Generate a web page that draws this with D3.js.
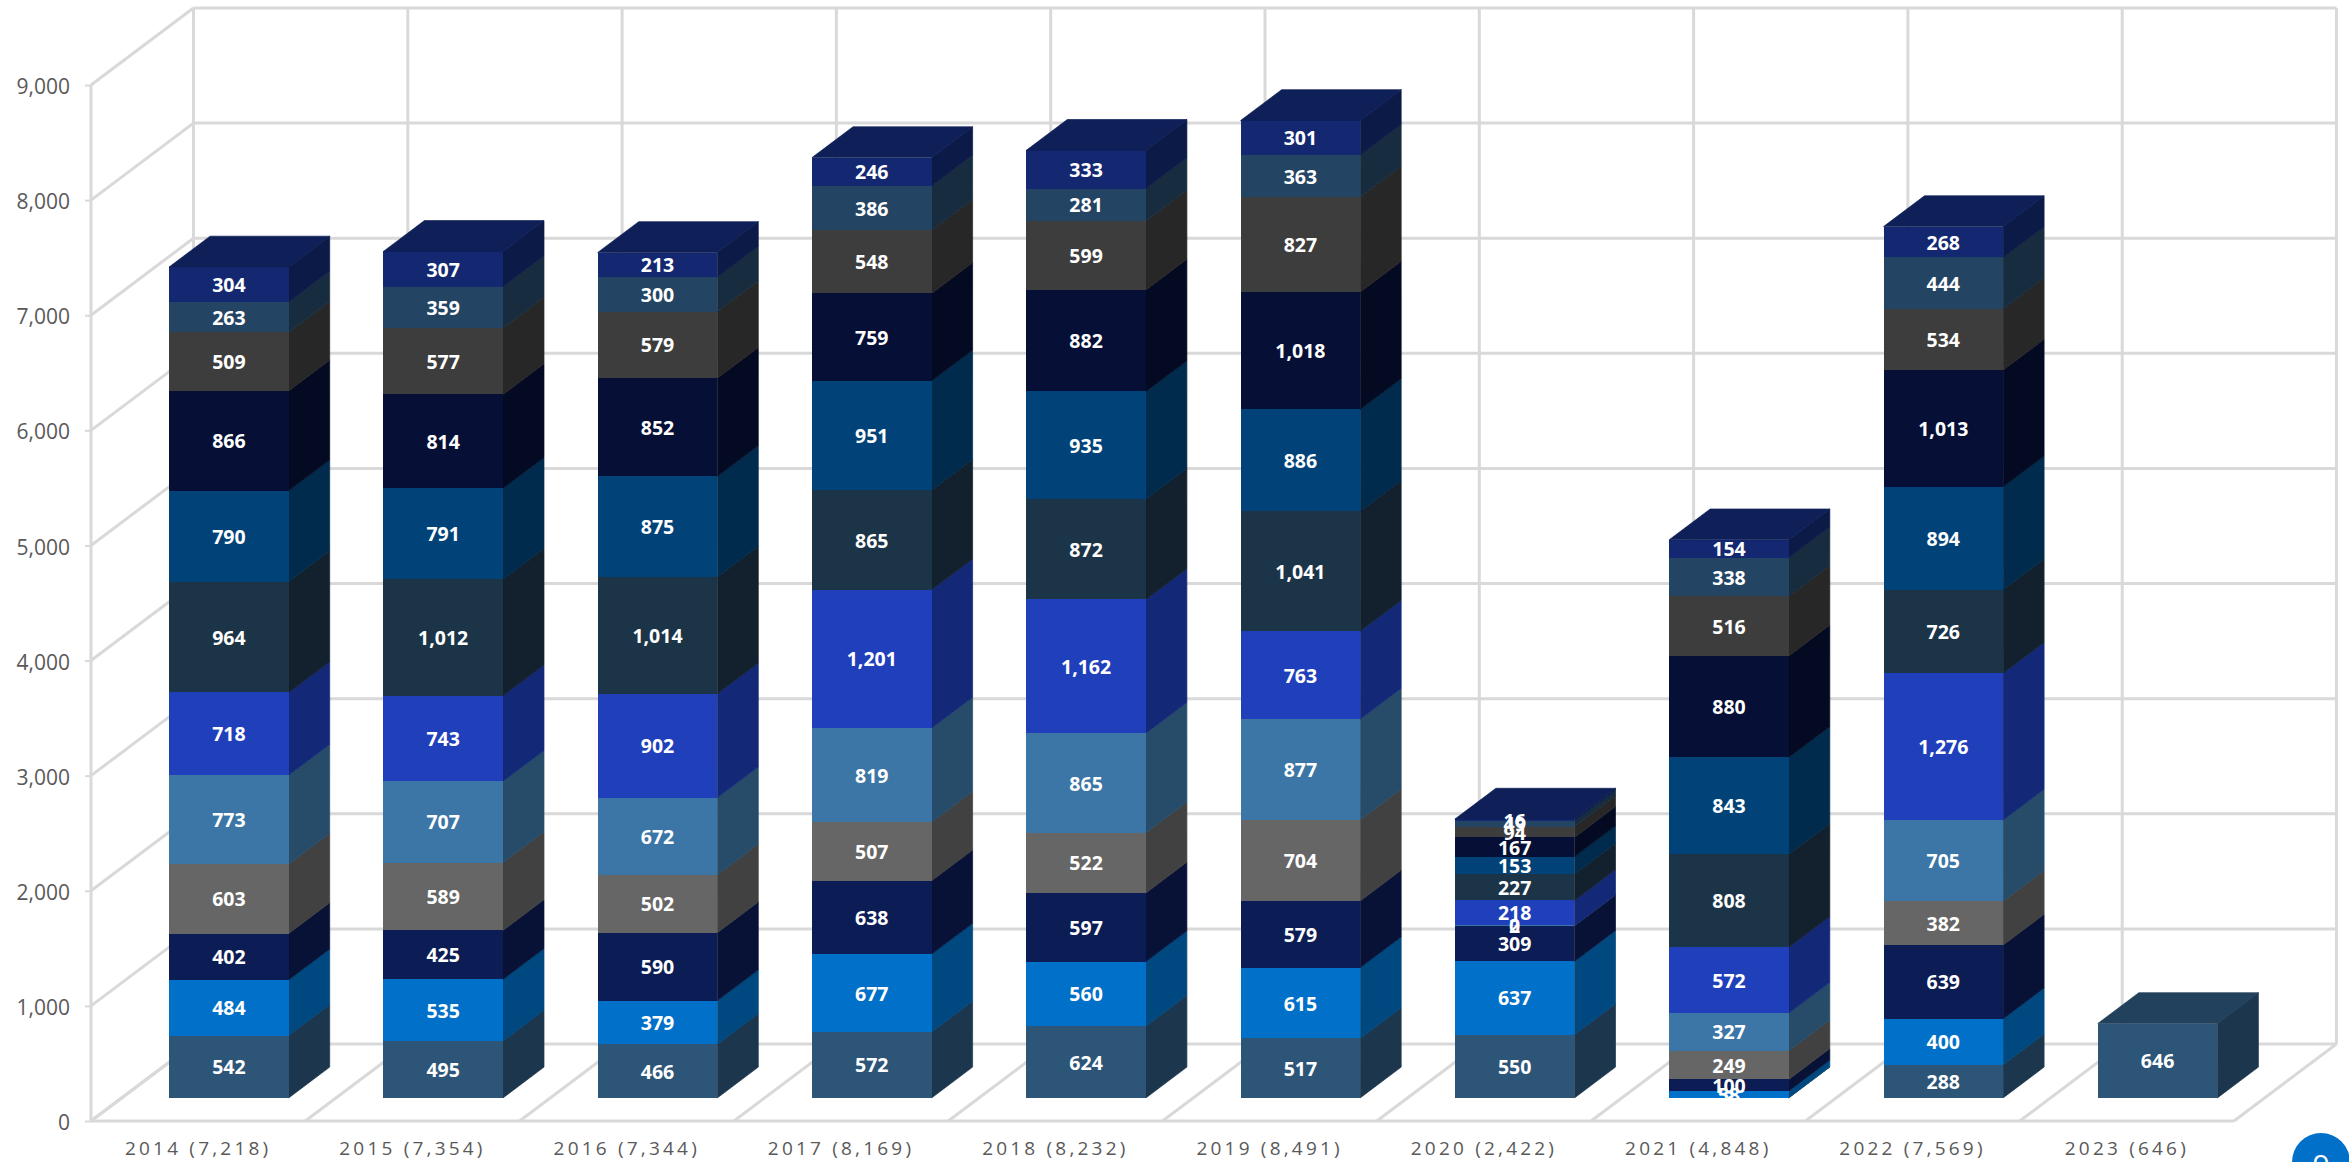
<!DOCTYPE html>
<html>
<head>
<meta charset="utf-8">
<script src="https://d3js.org/d3.v7.min.js"></script>
<style>
  html, body { margin: 0; padding: 0; background: #fff; overflow: hidden; }
  svg { display: block; font-family: "Open Sans", sans-serif; }
  .grid line, .grid path { stroke: #d9d9d9; stroke-width: 3; fill: none; }
  .axis path { display: none; }
  .axis line { stroke: #d9d9d9; stroke-width: 2; }
  .axis text { fill: #595959; }
  .axis-y text { font-size: 21px; }
  .axis-x text { font-size: 19px; letter-spacing: 3.2px; }
  .front { shape-rendering: crispEdges; }
  .val { fill: #fff; font-size: 19.5px; font-weight: 700; text-anchor: middle; }
</style>
</head>
<body>
<svg id="chart" width="2349" height="1162"></svg>
<script>
var years = ["2014", "2015", "2016", "2017", "2018", "2019", "2020", "2021", "2022", "2023"];
var xLabels = ["2014 (7,218)", "2015 (7,354)", "2016 (7,344)", "2017 (8,169)", "2018 (8,232)", "2019 (8,491)", "2020 (2,422)", "2021 (4,848)", "2022 (7,569)", "2023 (646)"];
var yTicks = [0, 1000, 2000, 3000, 4000, 5000, 6000, 7000, 8000, 9000];

// one list per stack layer, bottom to top, one value per year
var s01 = [542, 495, 466, 572, 624, 517, 550, 3, 288, 646];
var s02 = [484, 535, 379, 677, 560, 615, 637, 58, 400, 0];
var s03 = [402, 425, 590, 638, 597, 579, 309, 100, 639, 0];
var s04 = [603, 589, 502, 507, 522, 704, 0, 249, 382, 0];
var s05 = [773, 707, 672, 819, 865, 877, 2, 327, 705, 0];
var s06 = [718, 743, 902, 1201, 1162, 763, 218, 572, 1276, 0];
var s07 = [964, 1012, 1014, 865, 872, 1041, 227, 808, 726, 0];
var s08 = [790, 791, 875, 951, 935, 886, 153, 843, 894, 0];
var s09 = [866, 814, 852, 759, 882, 1018, 167, 880, 1013, 0];
var s10 = [509, 577, 579, 548, 599, 827, 94, 516, 534, 0];
var s11 = [263, 359, 300, 386, 281, 363, 49, 338, 444, 0];
var s12 = [304, 307, 213, 246, 333, 301, 16, 154, 268, 0];

var allSeries = [s01, s02, s03, s04, s05, s06, s07, s08, s09, s10, s11, s12];
var colors = ["#2c5578", "#0070c8", "#0c1c54", "#666666", "#3c76a6", "#1f3fbb", "#1c3447", "#014378", "#060f35", "#3d3d3d", "#244463", "#132871"];

// plot box: front plane, plus the offset of the back wall
const plotLeft = 91, plotRight = 2234, plotBottom = 1121, plotTop = 85;
const wallX = 102.5, wallY = -77;
const depthFront = 0.3, depthBack = 0.7;

const x = d3.scaleBand().domain(years).range([plotLeft, plotRight]).paddingInner(0.442).paddingOuter(0.221);
const y = d3.scaleLinear().domain([0, 9000]).range([plotBottom, plotTop]);

function shade(c, k) {
  const r = d3.rgb(c);
  return d3.rgb(r.r * k, r.g * k, r.b * k).formatHex();
}
function pts(list) {
  return list.map((p) => p[0].toFixed(1) + "," + p[1].toFixed(1)).join(" ");
}

const svg = d3.select("#chart");
const cell = x.step();
const cellEdges = d3.range(years.length + 1).map((i) => plotLeft + i * cell);

// walls and floor
const grid = svg.append("g").attr("class", "grid");
grid.selectAll(".back-h").data(yTicks).enter().append("line")
  .attr("class", "back-h")
  .attr("x1", plotLeft + wallX).attr("x2", plotRight + wallX)
  .attr("y1", (d) => y(d) + wallY).attr("y2", (d) => y(d) + wallY);
grid.selectAll(".back-v").data(cellEdges).enter().append("line")
  .attr("class", "back-v")
  .attr("x1", (d) => d + wallX).attr("x2", (d) => d + wallX)
  .attr("y1", y(9000) + wallY).attr("y2", y(0) + wallY);
grid.selectAll(".side").data(yTicks).enter().append("line")
  .attr("class", "side")
  .attr("x1", plotLeft).attr("x2", plotLeft + wallX)
  .attr("y1", (d) => y(d)).attr("y2", (d) => y(d) + wallY);
grid.selectAll(".floor").data(cellEdges).enter().append("line")
  .attr("class", "floor")
  .attr("x1", (d) => d).attr("x2", (d) => d + wallX)
  .attr("y1", y(0)).attr("y2", y(0) + wallY);
grid.append("line").attr("x1", plotLeft).attr("x2", plotLeft).attr("y1", y(9000)).attr("y2", y(0));
grid.append("line").attr("x1", plotLeft).attr("x2", plotRight).attr("y1", y(0)).attr("y2", y(0));

// axes
const axisY = svg.append("g").attr("class", "axis axis-y")
  .attr("transform", "translate(" + plotLeft + ",0)")
  .call(d3.axisLeft(y).tickValues(yTicks).tickFormat(d3.format(",")).tickSize(6).tickPadding(15));
const axisX = svg.append("g").attr("class", "axis axis-x")
  .attr("transform", "translate(0," + (plotBottom + 4) + ")")
  .call(d3.axisBottom(x).tickFormat((d, i) => xLabels[i]).tickSize(0).tickPadding(17));
axisY.attr("font-family", null).attr("font-size", null);
axisX.attr("font-family", null).attr("font-size", null);
axisY.selectAll("text").attr("dy", "0.41em");

// stacked boxes
const stackRows = years.map((yr, i) => {
  const row = {year: yr};
  allSeries.forEach((s, k) => { row[k] = s[i]; });
  return row;
});
const stacked = d3.stack().keys(allSeries.map((s, k) => k))(stackRows);

const fx = wallX * depthFront, fy = wallY * depthFront;
const bx = wallX * (depthBack - depthFront), by = wallY * (depthBack - depthFront);

years.forEach((yr, i) => {
  const bar = svg.append("g").attr("class", "bar");
  const x0 = x(yr) + fx, x1 = x0 + x.bandwidth();
  const layers = stacked.filter((l) => l[i][1] > l[i][0]);

  bar.selectAll(".bside").data(layers).enter().append("polygon")
    .attr("class", "bside")
    .attr("fill", (l) => shade(colors[l.key], 0.64))
    .attr("stroke", (l) => shade(colors[l.key], 0.64))
    .attr("stroke-width", 0.7)
    .attr("points", (l) => pts([
      [x1, y(l[i][0]) + fy], [x1 + bx, y(l[i][0]) + fy + by],
      [x1 + bx, y(l[i][1]) + fy + by], [x1, y(l[i][1]) + fy]
    ]));

  bar.selectAll(".front").data(layers).enter().append("rect")
    .attr("class", "front")
    .attr("x", x0).attr("width", x.bandwidth())
    .attr("y", (l) => y(l[i][1]) + fy)
    .attr("height", (l) => y(l[i][0]) - y(l[i][1]))
    .attr("fill", (l) => colors[l.key]);

  const last = layers[layers.length - 1];
  const t = y(last[i][1]) + fy;
  const topFill = shade(colors[last.key], 0.77);
  bar.append("polygon")
    .attr("fill", topFill).attr("stroke", topFill).attr("stroke-width", 0.7)
    .attr("points", pts([[x0, t], [x1, t], [x1 + bx, t + by], [x0 + bx, t + by]]));
});

// value labels go over every box, small ones collide as in the source
const labels = svg.append("g");
years.forEach((yr, i) => {
  const cx = x(yr) + fx + x.bandwidth() / 2;
  stacked.forEach((l) => {
    // 2023 only has its first layer
    if (yr === "2023" && l.key > 0) return;
    if (l[i][1] === l[i][0] && yr !== "2020") return;
    labels.append("text").attr("class", "val")
      .attr("x", cx)
      .attr("y", (y(l[i][0]) + y(l[i][1])) / 2 + fy + 0.5)
      .attr("dy", "0.36em")
      .text(d3.format(",")(l[i][1] - l[i][0]));
  });
});

// chat bubble cut off by the page edge
svg.append("circle").attr("cx", 2321).attr("cy", 1162).attr("r", 29).attr("fill", "#0070c8");
svg.append("text").attr("x", 2321).attr("y", 1176).attr("text-anchor", "middle")
  .attr("fill", "#fff").attr("font-size", 30).text("9");
</script>
</body>
</html>
